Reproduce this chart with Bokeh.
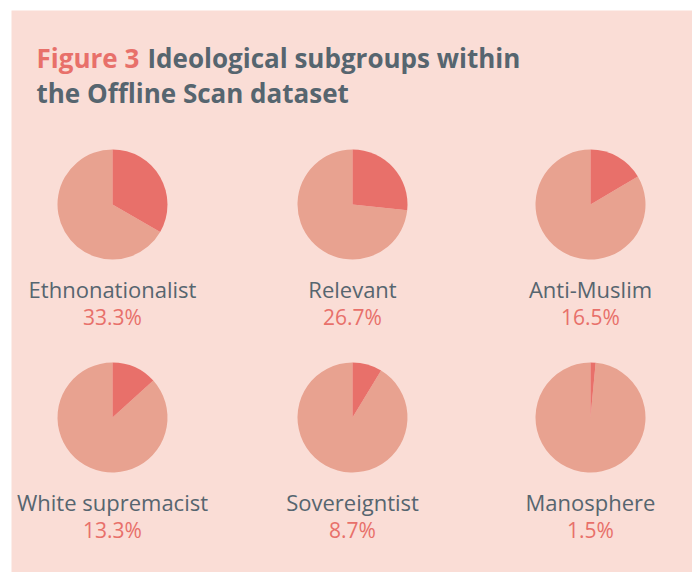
import math
from bokeh.plotting import figure
from bokeh.models import Range1d, ColumnDataSource
from bokeh.core.properties import value
from bokeh.embed import file_html
from bokeh.resources import INLINE

# ---- data ----
categories = ["Ethnonationalist", "Relevant", "Anti-Muslim",
              "White supremacist", "Sovereigntist", "Manosphere"]
shares = [33.3, 26.7, 16.5, 13.3, 8.7, 1.5]
pct_labels = ["33.3%", "26.7%", "16.5%", "13.3%", "8.7%", "1.5%"]

# ---- layout (frame pixel coordinates, y downward) ----
col_x = [101, 341, 579]
row_pie_y = [194, 407]
row_lab_y = [278, 491]
row_pct_y = [306, 519]
R = 55

BG = "#FADDD6"
HI = "#E8706A"
REST = "#E8A290"
GRAY = "#56656F"
CORAL = "#E8706A"

W, H = 692, 572
p = figure(width=W, height=H, output_backend="svg", toolbar_location=None,
           x_range=Range1d(0, 681), y_range=Range1d(562, 0),
           min_border_left=11, min_border_top=10, min_border_right=0, min_border_bottom=0)
p.axis.visible = False
p.grid.visible = False
p.outline_line_color = None
p.background_fill_color = BG
p.border_fill_color = "white"

xs, ys, lys, pys = [], [], [], []
hs, he, rs, re = [], [], [], []
for i, f in enumerate(shares):
    x = col_x[i % 3]
    r = i // 3
    xs.append(x); ys.append(row_pie_y[r]); lys.append(row_lab_y[r]); pys.append(row_pct_y[r])
    a = 2 * math.pi * f / 100.0
    # highlight from 12 o'clock going clockwise
    hs.append(math.pi / 2 - a); he.append(math.pi / 2)
    rs.append(math.pi / 2); re.append(math.pi / 2 - a + 2 * math.pi)

src = ColumnDataSource(dict(x=xs, y=ys, ly=lys, py=pys, hs=hs, he=he, rs=rs, re=re,
                            cat=categories, pct=pct_labels))

p.wedge(x="x", y="y", radius=R, radius_units="screen", start_angle="rs", end_angle="re",
        direction="anticlock", fill_color=REST, line_color=None, source=src)
p.wedge(x="x", y="y", radius=R, radius_units="screen", start_angle="hs", end_angle="he",
        direction="anticlock", fill_color=HI, line_color=None, source=src)

p.text(x="x", y="ly", text="cat", source=src, text_align="center", text_baseline="middle",
       text_font=value("Open Sans"), text_font_size="22px", text_color=GRAY)
p.text(x="x", y="py", text="pct", source=src, text_align="center", text_baseline="middle",
       text_font=value("Open Sans"), text_font_size="21px", text_color=CORAL)

# title
p.text(x=[25], y=[47], text=["Figure 3"], text_align="left", text_baseline="middle",
       text_font=value("Open Sans"), text_font_style="bold", text_font_size="26px",
       text_color=CORAL)
p.text(x=[136], y=[47], text=["Ideological subgroups within"], text_align="left",
       text_baseline="middle", text_font=value("Open Sans"), text_font_style="bold",
       text_font_size="26px", text_color=GRAY)
p.text(x=[25], y=[82], text=["the Offline Scan dataset"], text_align="left",
       text_baseline="middle", text_font=value("Open Sans"), text_font_style="bold",
       text_font_size="26px", text_color=GRAY)

open("out.html", "w").write(file_html(p, INLINE))
